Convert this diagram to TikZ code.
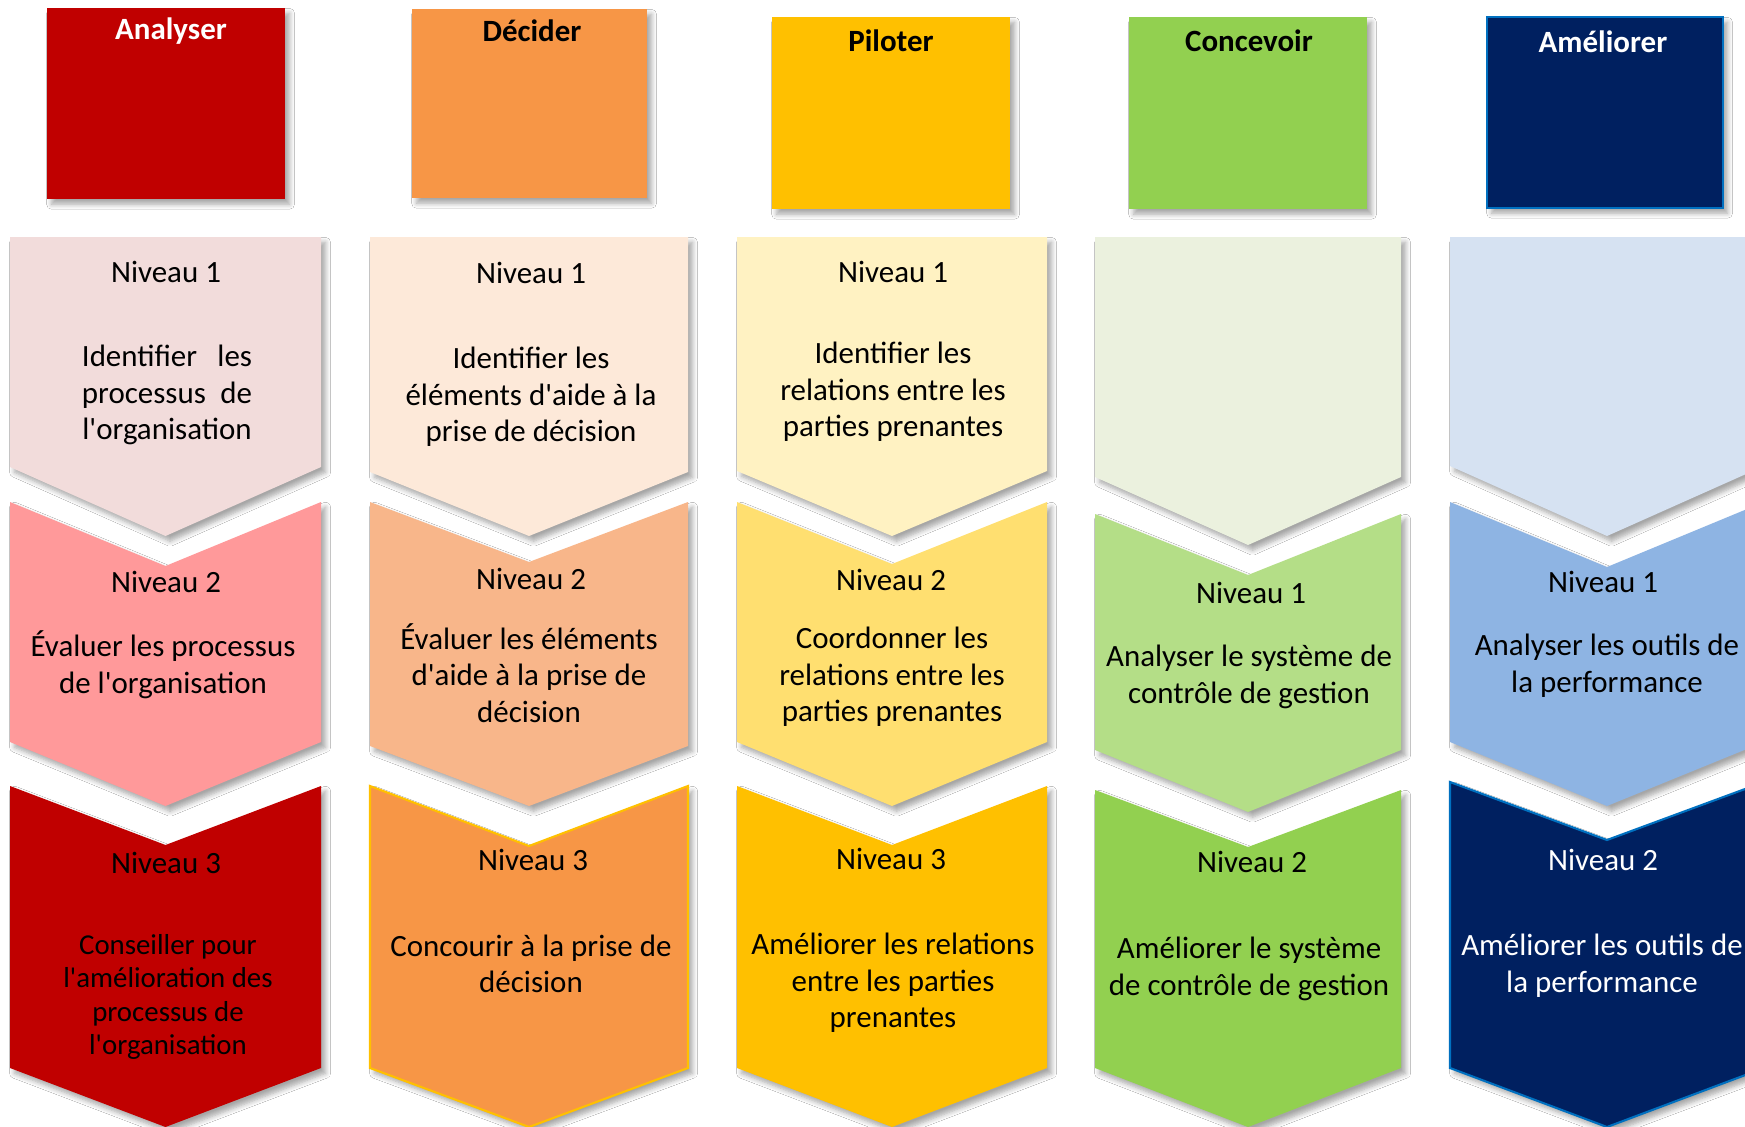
\documentclass[tikz,border=0pt]{standalone}
\usepackage{fontspec}
\setmainfont{Carlito}[Ligatures=TeXOff]
\usetikzlibrary{shadows.blur}

\definecolor{anaDark}{HTML}{C00000}
\definecolor{anaMid}{HTML}{FF999A}
\definecolor{anaLight}{HTML}{F2DCDB}
\definecolor{decDark}{HTML}{F79646}
\definecolor{decMid}{HTML}{F8B68A}
\definecolor{decLight}{HTML}{FDE9D9}
\definecolor{pilDark}{HTML}{FFC000}
\definecolor{pilMid}{HTML}{FFDF70}
\definecolor{pilLight}{HTML}{FFF2C2}
\definecolor{conDark}{HTML}{92D050}
\definecolor{conMid}{HTML}{B4DE87}
\definecolor{conLight}{HTML}{EBF1DE}
\definecolor{amDark}{HTML}{002060}
\definecolor{amMid}{HTML}{8EB4E3}
\definecolor{amLight}{HTML}{D6E2F2}
\definecolor{amLine}{HTML}{0070C0}

% chevron: style, left, right, top, notch, side bottom, tip
\newcommand{\chevron}[7]{%
  \fill[shade,#1] (#2,#4) -- ({(#2+#3)/2},#5) -- (#3,#4) -- (#3,#6)
    -- ({(#2+#3)/2},#7) -- (#2,#6) -- cycle;}

\begin{document}
\begin{tikzpicture}[x=0.01cm,y=-0.01cm]
        \tikzset{shade/.style = {blur shadow={shadow xshift=1.3pt, shadow yshift=-1.5pt, shadow blur radius=1.4pt, shadow blur steps=6, shadow opacity=35}}}
        \tikzset{head/.style = {inner sep=0pt, font=\fontsize{8.8}{10.4}\selectfont\bfseries}}
        \tikzset{lvl/.style = {inner sep=0pt, align=center, font=\fontsize{8.8}{10.4}\selectfont}}
        \tikzset{small/.style = {lvl, font=\fontsize{8.2}{9.5}\selectfont}}
        \clip (0,0) rectangle (1745,1127);
        \fill[white] (0,0) rectangle (1745,1127);
        % title boxes
        \fill[shade, anaDark] (47,8) rectangle (285,199);
        \fill[shade, decDark] (412,9) rectangle (647,198);
        \fill[shade, pilDark] (772,17) rectangle (1010,209);
        \fill[shade, conDark] (1129,17) rectangle (1367,209);
        \filldraw[shade, fill=amDark, draw=amLine, line width=0.6pt] (1487,17) rectangle (1723,208);
        \node[head, text=white] (tana) at (171,31) {Analyser};
        \node[head] (tdec) at (532,31) {Décider};
        \node[head] (tpil) at (891,41) {Piloter};
        \node[head] (tcon) at (1249,41) {Concevoir};
        \node[head, text=white] (tam) at (1603,42) {Améliorer};
        % chevrons
        \chevron{anaLight}{10}{321}{237}{237}{467}{536}
        \chevron{anaMid}{10}{321}{502}{566}{742}{806}
        \chevron{anaDark}{10}{321}{786}{845}{1068}{1127}
        \chevron{decLight}{370}{688}{237}{237}{472}{536}
        \chevron{decMid}{370}{688}{502}{562}{746}{806}
        \chevron{fill=decDark, draw=pilDark, line width=0.6pt}{370}{688}{786}{846}{1068}{1127}
        \chevron{pilLight}{737}{1047}{237}{237}{471}{536}
        \chevron{pilMid}{737}{1047}{502}{564}{742}{806}
        \chevron{pilDark}{737}{1047}{786}{845}{1068}{1127}
        \chevron{conLight}{1095}{1401}{237}{237}{477}{545}
        \chevron{conMid}{1095}{1401}{514}{575}{750}{812}
        \chevron{conDark}{1095}{1401}{790}{847}{1068}{1127}
        \chevron{amLight}{1450}{1764}{237}{237}{466}{536}
        \chevron{amMid}{1450}{1764}{502}{567}{742}{806}
        \chevron{fill=amDark, draw=amLine, line width=0.6pt}{1450}{1764}{782}{840}{1068}{1127}
        % Analyser
        \node[lvl] (a1) at (166,272) {Niveau 1};
        \node[lvl] (a1t) at (167,395) {\makebox[1.70cm][s]{Identifier les}\\\makebox[1.70cm][s]{processus de}\\l'organisation};
        \node[lvl] (a2) at (166,582) {Niveau 2};
        \node[lvl] (a2t) at (163,665) {Évaluer les processus\\de l'organisation};
        \node[lvl] (a3) at (166,863) {Niveau 3};
        \node[small] (a3t) at (168,997) {Conseiller pour\\l'amélioration des\\processus de\\l'organisation};
        % Decider
        \node[lvl] (d1) at (531,273) {Niveau 1};
        \node[lvl] (d1t) at (531,397) {Identifier les\\éléments d'aide à la\\prise de décision};
        \node[lvl] (d2) at (531,579) {Niveau 2};
        \node[lvl] (d2t) at (529,673) {Évaluer les éléments\\d'aide à la prise de\\décision};
        \node[lvl] (d3) at (533,860) {Niveau 3};
        \node[lvl] (d3t) at (531,964) {Concourir à la prise de\\décision};
        % Piloter
        \node[lvl] (p1) at (893,272) {Niveau 1};
        \node[lvl] (p1t) at (893,392) {Identifier les\\relations entre les\\parties prenantes};
        \node[lvl] (p2) at (891,580) {Niveau 2};
        \node[lvl] (p2t) at (892,677) {Coordonner les\\relations entre les\\parties prenantes};
        \node[lvl] (p3) at (891,859) {Niveau 3};
        \node[lvl] (p3t) at (893,983) {Améliorer les relations\\entre les parties\\prenantes};
        % Concevoir
        \node[lvl] (c1) at (1251,593) {Niveau 1};
        \node[lvl] (c1t) at (1249,677) {Analyser le système de\\contrôle de gestion};
        \node[lvl] (c2) at (1252,862) {Niveau 2};
        \node[lvl] (c2t) at (1249,969) {Améliorer le système\\de contrôle de gestion};
        % Ameliorer
        \node[lvl] (m1) at (1603,582) {Niveau 1};
        \node[lvl] (m1t) at (1607,666) {Analyser les outils de\\la performance};
        \node[lvl, text=white] (m2) at (1603,860) {Niveau 2};
        \node[lvl, text=white] (m2t) at (1602,966) {Améliorer les outils de\\la performance};
\end{tikzpicture}
\end{document}
